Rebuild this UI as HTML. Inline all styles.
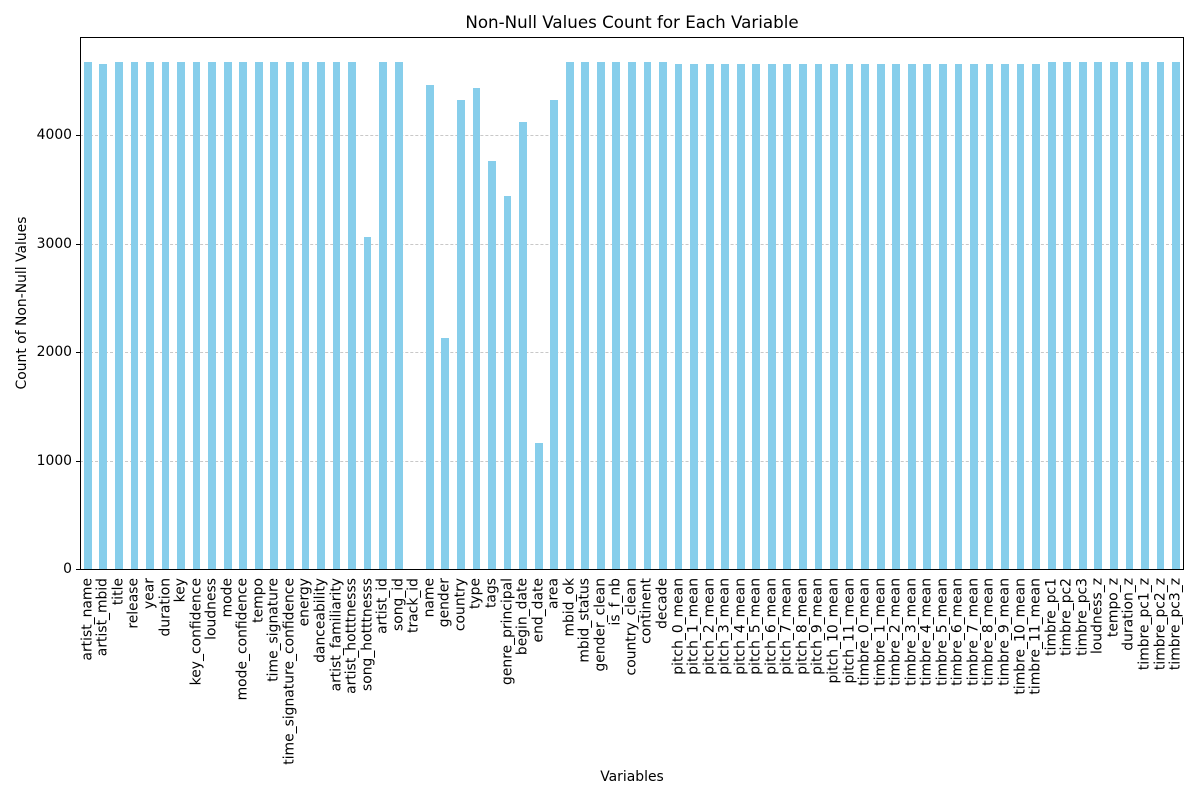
<!DOCTYPE html>
<html><head><meta charset="utf-8"><style>
body{margin:0;width:1200px;height:800px;background:#fff;font-family:"DejaVu Sans","Liberation Sans",sans-serif;color:#000;position:relative;overflow:hidden}
#plot{position:absolute;left:80px;top:37px;width:1104px;height:533px;border:1px solid #000;box-sizing:border-box}
.g{position:absolute;left:0;right:0;border-top:1px dashed #c8c8c8}
#cols{position:absolute;left:80px;top:37px;width:1104px;height:533px;display:flex}
.c{position:relative;flex:0 0 15.549px;height:533px}
.c b{position:absolute;bottom:0;left:3.89px;width:7.77px;background:#87ceeb}
.c span{position:absolute;top:541px;left:50%;writing-mode:vertical-rl;transform:translateX(-50%) rotate(180deg);font-size:13.9px;line-height:15px;white-space:nowrap}
.yt{position:absolute;right:1128px;font-size:13.9px;transform:translateY(-50%)}
.tk{position:absolute;left:76px;width:4px;border-top:1px solid #000}
</style></head><body>
<div style="position:absolute;top:12px;left:80px;width:1104px;text-align:center;font-size:16.7px">Non-Null Values Count for Each Variable</div>
<div style="position:absolute;left:22px;top:303px;transform:translate(-50%,-50%) rotate(-90deg);font-size:13.9px;white-space:nowrap">Count of Non-Null Values</div>
<div style="position:absolute;top:769px;left:80px;width:1104px;text-align:center;font-size:13.9px">Variables</div>
<div class="g" style="top:135px;left:80px;width:1104px;right:auto"></div>
<div class="g" style="top:244px;left:80px;width:1104px;right:auto"></div>
<div class="g" style="top:352px;left:80px;width:1104px;right:auto"></div>
<div class="g" style="top:461px;left:80px;width:1104px;right:auto"></div>
<div class="tk" style="top:135px"></div><div class="tk" style="top:244px"></div><div class="tk" style="top:352px"></div><div class="tk" style="top:461px"></div><div class="tk" style="top:569px"></div>
<div class="yt" style="top:135px">4000</div><div class="yt" style="top:244px">3000</div><div class="yt" style="top:352px">2000</div><div class="yt" style="top:461px">1000</div><div class="yt" style="top:569px">0</div>
<div id="cols">
<div class="c"><b style="height:508px"></b><span>artist_name</span></div>
<div class="c"><b style="height:506px"></b><span>artist_mbid</span></div>
<div class="c"><b style="height:508px"></b><span>title</span></div>
<div class="c"><b style="height:508px"></b><span>release</span></div>
<div class="c"><b style="height:508px"></b><span>year</span></div>
<div class="c"><b style="height:508px"></b><span>duration</span></div>
<div class="c"><b style="height:508px"></b><span>key</span></div>
<div class="c"><b style="height:508px"></b><span>key_confidence</span></div>
<div class="c"><b style="height:508px"></b><span>loudness</span></div>
<div class="c"><b style="height:508px"></b><span>mode</span></div>
<div class="c"><b style="height:508px"></b><span>mode_confidence</span></div>
<div class="c"><b style="height:508px"></b><span>tempo</span></div>
<div class="c"><b style="height:508px"></b><span>time_signature</span></div>
<div class="c"><b style="height:508px"></b><span>time_signature_confidence</span></div>
<div class="c"><b style="height:508px"></b><span>energy</span></div>
<div class="c"><b style="height:508px"></b><span>danceability</span></div>
<div class="c"><b style="height:508px"></b><span>artist_familiarity</span></div>
<div class="c"><b style="height:508px"></b><span>artist_hotttnesss</span></div>
<div class="c"><b style="height:333px"></b><span>song_hotttnesss</span></div>
<div class="c"><b style="height:508px"></b><span>artist_id</span></div>
<div class="c"><b style="height:508px"></b><span>song_id</span></div>
<div class="c"><b style="height:0px"></b><span>track_id</span></div>
<div class="c"><b style="height:485px"></b><span>name</span></div>
<div class="c"><b style="height:232px"></b><span>gender</span></div>
<div class="c"><b style="height:470px"></b><span>country</span></div>
<div class="c"><b style="height:482px"></b><span>type</span></div>
<div class="c"><b style="height:409px"></b><span>tags</span></div>
<div class="c"><b style="height:374px"></b><span>genre_principal</span></div>
<div class="c"><b style="height:448px"></b><span>begin_date</span></div>
<div class="c"><b style="height:127px"></b><span>end_date</span></div>
<div class="c"><b style="height:470px"></b><span>area</span></div>
<div class="c"><b style="height:508px"></b><span>mbid_ok</span></div>
<div class="c"><b style="height:508px"></b><span>mbid_status</span></div>
<div class="c"><b style="height:508px"></b><span>gender_clean</span></div>
<div class="c"><b style="height:508px"></b><span>is_f_nb</span></div>
<div class="c"><b style="height:508px"></b><span>country_clean</span></div>
<div class="c"><b style="height:508px"></b><span>continent</span></div>
<div class="c"><b style="height:508px"></b><span>decade</span></div>
<div class="c"><b style="height:506px"></b><span>pitch_0_mean</span></div>
<div class="c"><b style="height:506px"></b><span>pitch_1_mean</span></div>
<div class="c"><b style="height:506px"></b><span>pitch_2_mean</span></div>
<div class="c"><b style="height:506px"></b><span>pitch_3_mean</span></div>
<div class="c"><b style="height:506px"></b><span>pitch_4_mean</span></div>
<div class="c"><b style="height:506px"></b><span>pitch_5_mean</span></div>
<div class="c"><b style="height:506px"></b><span>pitch_6_mean</span></div>
<div class="c"><b style="height:506px"></b><span>pitch_7_mean</span></div>
<div class="c"><b style="height:506px"></b><span>pitch_8_mean</span></div>
<div class="c"><b style="height:506px"></b><span>pitch_9_mean</span></div>
<div class="c"><b style="height:506px"></b><span>pitch_10_mean</span></div>
<div class="c"><b style="height:506px"></b><span>pitch_11_mean</span></div>
<div class="c"><b style="height:506px"></b><span>timbre_0_mean</span></div>
<div class="c"><b style="height:506px"></b><span>timbre_1_mean</span></div>
<div class="c"><b style="height:506px"></b><span>timbre_2_mean</span></div>
<div class="c"><b style="height:506px"></b><span>timbre_3_mean</span></div>
<div class="c"><b style="height:506px"></b><span>timbre_4_mean</span></div>
<div class="c"><b style="height:506px"></b><span>timbre_5_mean</span></div>
<div class="c"><b style="height:506px"></b><span>timbre_6_mean</span></div>
<div class="c"><b style="height:506px"></b><span>timbre_7_mean</span></div>
<div class="c"><b style="height:506px"></b><span>timbre_8_mean</span></div>
<div class="c"><b style="height:506px"></b><span>timbre_9_mean</span></div>
<div class="c"><b style="height:506px"></b><span>timbre_10_mean</span></div>
<div class="c"><b style="height:506px"></b><span>timbre_11_mean</span></div>
<div class="c"><b style="height:508px"></b><span>timbre_pc1</span></div>
<div class="c"><b style="height:508px"></b><span>timbre_pc2</span></div>
<div class="c"><b style="height:508px"></b><span>timbre_pc3</span></div>
<div class="c"><b style="height:508px"></b><span>loudness_z</span></div>
<div class="c"><b style="height:508px"></b><span>tempo_z</span></div>
<div class="c"><b style="height:508px"></b><span>duration_z</span></div>
<div class="c"><b style="height:508px"></b><span>timbre_pc1_z</span></div>
<div class="c"><b style="height:508px"></b><span>timbre_pc2_z</span></div>
<div class="c"><b style="height:508px"></b><span>timbre_pc3_z</span></div>
</div>
<div id="plot"></div>
</body></html>
